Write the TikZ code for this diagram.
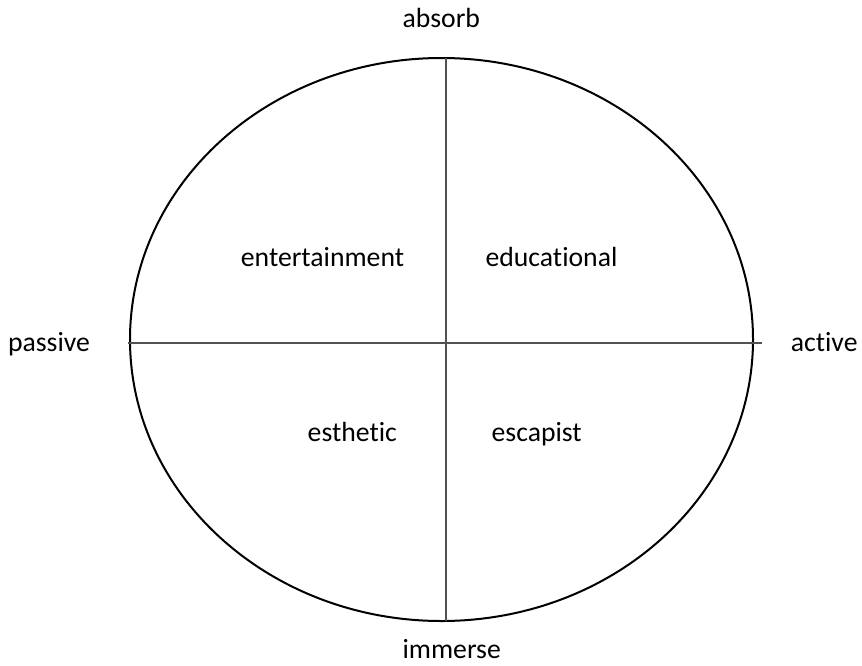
\documentclass[tikz,border=0pt]{standalone}
\usepackage{fontspec}
\setmainfont{Carlito}[Ligatures=NoCommon]
\usetikzlibrary{calc}

\begin{document}
\begin{tikzpicture}[x=1pt,y=-1pt,line join=round,
    every node/.style={font=\fontsize{27.7}{33}\selectfont,inner sep=0pt,anchor=base},
    axis/.style={draw=black!68,line width=1.6pt},
    rim/.style={draw=black,line width=2pt}]
  \useasboundingbox (0,0) rectangle (862,665);
  % quadrant chart: ellipse cut by two axes
  \coordinate (C) at (441.5,339.5);
  \coordinate (T) at (445.7,58);
  \coordinate (Bo) at (445.7,621);
  \coordinate (L) at (128,342.7);
  \coordinate (R) at (761.7,342.7);
  \draw[rim] (C) ellipse [x radius=311.5,y radius=281.5];
  \draw[axis] (T)--(Bo);
  \draw[axis] (L)--(R);
  % axis ends (text placed at baseline)
  \node (absorb) at (441.3,27) {absorb};
  \node (immerse) at (451.7,658.5) {immerse};
  \node (passive) at (49,351.7) {passive};
  \node (active) at (824.2,351) {active};
  % quadrants
  \node (ent) at (322.5,266.7) {entertainment};
  \node (edu) at (551.5,266.7) {educational};
  \node (est) at (352.3,441.7) {esthetic};
  \node (esc) at (536.7,441.7) {escapist};
\end{tikzpicture}
\end{document}
